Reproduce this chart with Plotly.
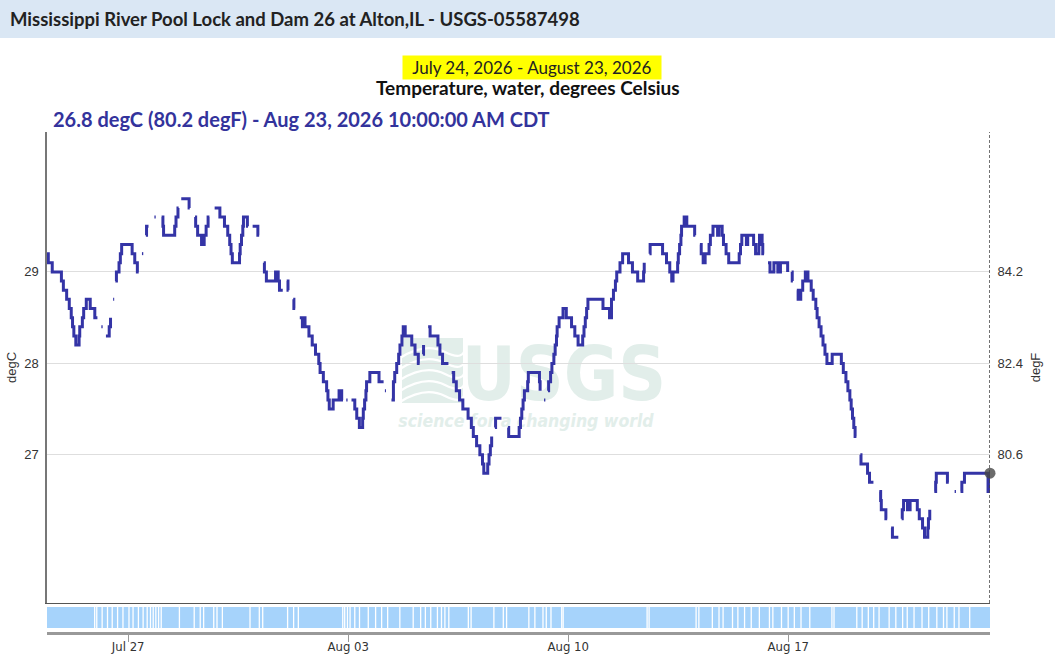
import plotly.graph_objects as go
import pandas as pd

SITE_TITLE = "Mississippi River Pool Lock and Dam 26 at Alton,IL - USGS-05587498"
DATE_RANGE = "July 24, 2026 - August 23, 2026"
PARAM_NAME = "Temperature, water, degrees Celsius"
LATEST_TEXT = "26.8 degC (80.2 degF) - Aug 23, 2026 10:00:00 AM CDT"

# hours since 2026-07-24 00:00 CDT ; water temperature (degC), None = missing data
obs_hours = [
    10, 11, 14, 21, 22.5, 25, 27, 28.5, 29.5, 30.5, 32, 34.5, 35, 37, 38, 40, 43, 46.5, 48.5, 49.5,
    51.5, 52.5, 53.5, 55, 57.5, 58.5, 59.5, 60.5, 61.3, 61.7,
    62.2, 63, 65, 66, 67, 75, 77, 79, 80, 81, 82.5, 83.5, 84.5, 85.5, 86, 87.5, 88.5,
    92, 93, 94, 97.5, 98.5, 99, 107.5, 108.5, 110, 110.5, 111.5, 112.5, 118.5, 119, 120,
    123, 123.5, 125, 128, 130, 131.5, 133, 134, 135,
    138, 142, 145.5, 148, 149.5, 150.5, 151.5, 157, 157.5, 158.5, 159.5, 160, 163, 163.5, 164.5,
    167, 171, 172, 173, 175.5, 176, 177.5, 184.5, 186.5, 187.5, 190, 191, 193, 194, 194.5, 195.5,
    198, 198.5, 199.5, 200.5,
    203, 205, 206, 207, 210, 212.5, 215, 217.5, 218.5, 221, 223.5, 224.5, 225.5, 228.5, 233, 235, 236, 237,
    238.5, 239.5, 240.5,
    242.5, 245, 246.5, 248.5, 251, 251.5, 252.5, 253.5, 254, 256.5, 263.5, 267, 267.5,
    268, 268.8, 269.5,
    273, 274.5, 275.5, 277, 278.5, 279.5, 281, 282, 283.5, 288.5, 291, 293.5, 294.5, 295.5,
    297, 297.5, 298.5,
    301, 302.5, 308.5, 310, 312, 316.5, 317.5,
    319, 320.5, 322.5, 325, 327.5, 331.5, 334, 335.5, 338, 340.5, 342.5, 343.5, 346.5, 347.5, 348.5, 349.5, 350.5,
    352, 352.5, 357, 358,
    362, 362.5, 370.5, 371.5, 372.5, 373.5, 374.5, 377, 377.5, 386, 386.5, 387,
    389.5, 390.5, 391.5,
    392.5, 393, 394.5, 395.5, 397, 398, 399, 399.5, 401, 404, 406.5, 410.5, 413, 415.5, 419, 420, 421, 422, 423,
    434.5, 439.5, 441, 442.5, 444, 445, 447.5, 449.5, 454, 457, 461, 465.5, 466, 466.5,
    470, 470.5, 480, 483, 485.5, 487, 488, 491.5, 492, 493, 494, 494.5, 496.5, 498.5, 504.5, 505, 506,
    508.5, 509.5, 511, 512.5, 515.5, 516.5, 518.5, 522, 523, 525.5, 526.5, 528.5, 530.5, 538.5, 539.5, 540.5,
    544, 545, 549.5, 551, 553.5, 554, 556, 556.5, 557.5, 558.5,
    560.5, 562, 565, 568, 570, 575.5, 576.5,
    578.5, 579, 579.5, 580.5,
    582.5, 583.5, 585.5, 587, 589, 591, 593.5, 595, 597, 598, 599.5, 601, 602.5, 604, 605.5, 609.5, 616.5,
    618, 620, 621.5, 623, 624, 625, 626, 627, 628, 629,
    631, 631.5, 636.5, 638, 641, 642,
    645.5, 646.5, 647, 650.5, 651.5, 652.5,
    654.5, 655.5, 660, 661,
    662.5, 663, 664, 667, 669, 672.5, 674.5, 676, 678.5, 680, 682.5, 683, 684, 685,
    687.5, 688.5, 689, 697.5, 698.5, 699,
    703, 704, 705,
    707.5, 708.5, 710.5, 728.5, 729.5, 730,
]
temp_c = [
    29.2, 29.1, 29.0, 28.9, 28.8, 28.7, 28.6, 28.5, 28.4, 28.3, 28.2, 28.3, 28.4, 28.5, 28.6, 28.7, 28.6, 28.5, 28.5, None,
    28.4, 28.4, None, 28.3, 28.4, 28.5, None, 28.7, 28.7, None,
    28.9, 29.0, 29.1, 29.2, 29.3, 29.2, 29.1, 29.0, 29.0, None, 29.2, 29.2, None, 29.4, 29.5, 29.5, None,
    29.6, 29.6, None, 29.6, 29.5, 29.4, 29.5, 29.6, 29.7, 29.7, None, 29.8, 29.7, 29.7, None,
    29.6, 29.5, 29.4, 29.3, 29.4, 29.5, 29.6, 29.6, None,
    29.7, 29.6, 29.5, 29.4, 29.3, 29.2, 29.1, 29.2, 29.3, 29.4, 29.5, 29.6, 29.5, 29.5, None,
    29.5, 29.4, 29.4, None, 29.1, 29.0, 28.9, 29.0, 28.9, 28.8, 28.8, None, 28.9, 28.8, 28.8, None,
    28.7, 28.6, 28.6, None,
    28.5, 28.4, 28.5, 28.4, 28.3, 28.2, 28.1, 28.0, 27.9, 27.8, 27.7, 27.6, 27.5, 27.6, 27.7, 27.6, 27.6, None,
    27.6, 27.6, None,
    27.6, 27.5, 27.4, 27.3, 27.4, 27.5, 27.6, 27.7, 27.8, 27.9, 27.8, 27.8, None,
    27.7, 27.7, None,
    27.6, 27.8, 27.9, 28.0, 28.1, 28.2, 28.3, 28.4, 28.3, 28.2, 28.1, 28.0, 28.0, None,
    28.1, 28.2, None,
    28.4, 28.3, 28.2, 28.1, 28.0, 28.0, None,
    27.9, 27.8, 27.7, 27.6, 27.5, 27.4, 27.3, 27.2, 27.1, 27.0, 26.9, 26.8, 26.9, 27.0, 27.1, 27.2, None,
    27.3, 27.4, 27.4, None,
    27.3, 27.2, 27.3, 27.4, 27.5, 27.6, 27.7, 27.8, 27.9, 27.8, 27.7, None,
    27.6, 27.6, None,
    27.7, 27.8, 27.9, 28.0, 28.1, 28.2, 28.3, 28.4, 28.5, 28.6, 28.5, 28.4, 28.3, 28.2, 28.3, 28.4, 28.5, 28.6, 28.7,
    28.6, 28.5, 28.7, 28.8, 28.9, 29.0, 29.1, 29.2, 29.1, 29.0, 28.9, 29.0, 29.1, None,
    29.2, 29.3, 29.2, 29.1, 29.0, 28.9, 29.0, 29.1, 29.2, 29.3, 29.4, 29.5, 29.6, 29.5, 29.4, 29.4, None,
    29.3, 29.2, 29.1, 29.2, 29.3, 29.4, 29.5, 29.4, 29.5, 29.4, 29.3, 29.2, 29.1, 29.2, 29.3, 29.4,
    29.3, 29.4, 29.3, 29.2, 29.3, 29.4, 29.3, 29.2, 29.2, None,
    29.1, 29.0, 29.1, 29.0, 29.1, 29.0, None,
    29.0, 28.9, 28.9, None,
    28.8, 28.7, 28.8, 28.9, 29.0, 28.9, 28.8, 28.7, 28.6, 28.5, 28.4, 28.3, 28.2, 28.1, 28.0, 28.1, 28.0,
    27.9, 27.8, 27.7, 27.6, 27.5, 27.4, 27.3, 27.2, 27.2, None,
    27.0, 26.9, 26.8, 26.7, 26.7, None,
    26.6, 26.5, 26.4, 26.3, 26.3, None,
    26.2, 26.1, 26.1, None,
    26.3, 26.4, 26.5, 26.4, 26.5, 26.5, 26.4, 26.3, 26.2, 26.1, 26.2, 26.3, 26.4, None,
    26.6, 26.7, 26.8, 26.7, 26.7, None,
    26.6, 26.6, None,
    26.6, 26.7, 26.8, 26.6, 26.8, 26.8,
]

# hours (since 2026-07-24 00:00) of the white breaks in the data-availability strip
strip_gap_hours = [
    46.4, 48, 52.1, 56.2, 59.8, 63.9, 68.0, 72.6, 75.7, 79.8, 83.4, 86.5, 89.0, 91.1, 93.1, 95.2, 97.2,
    111.1, 122.4, 127.0, 129.6, 137.3, 139.8, 143.9, 165.0, 172.1, 174.7, 193.7, 198.3, 201.9,
    235.8, 237.3, 239.4, 241.4, 245.0, 248.6, 255.3, 260.9, 265.5, 270.1, 279.4, 289.6, 295.3, 298.9,
    303.0, 308.1, 311.2, 313.8, 316.8, 331.7, 333.8, 351.2, 358.4, 360.9, 377.9, 382.5, 388.7, 391.2,
    394.8, 403.0, 404.1, 468.2, 469.7, 505.6, 507.7, 518.0, 523.1, 526.2, 533.4, 537.5, 542.6, 547.7,
    553.9, 561.6, 564.2, 570.8, 575.9, 580.6, 585.7, 592.4, 609.3, 610.9, 628.3, 632.4, 637.1, 641.2,
    645.3, 653.0, 658.1, 663.3, 666.8, 672.0, 678.1, 683.2, 689.4, 694.5, 697.1, 702.7, 706.3, 714.5,
]

tick_dates = ["2026-07-27", "2026-08-03", "2026-08-10", "2026-08-17"]
tick_labels = ["Jul 27", "Aug 03", "Aug 10", "Aug 17"]
c_ticks = [27, 28, 29]
f_ticks = [80.6, 82.4, 84.2]
c_range = [25.38, 30.53]

LINE = "#3434a6"
origin = pd.Timestamp("2026-07-24 00:00")
times = origin + pd.to_timedelta(obs_hours, unit="h")
x_start, x_end = times[0], times[-1]
f_range = [v * 1.8 + 32 for v in c_range]

fig = go.Figure()

fig.add_trace(go.Scatter(
    x=times, y=temp_c, mode="lines", line=dict(color=LINE, width=3, shape="hv"),
    connectgaps=False, hoverinfo="skip", showlegend=False, xaxis="x", yaxis="y"))

# last reading marker
fig.add_trace(go.Scatter(
    x=[times[-1]], y=[temp_c[-1]], mode="markers", cliponaxis=False,
    marker=dict(size=11, color="rgba(70,70,70,0.8)"), hoverinfo="skip", showlegend=False,
    xaxis="x", yaxis="y"))

# invisible trace for the Fahrenheit axis
fig.add_trace(go.Scatter(
    x=[x_start, x_end], y=f_range, mode="lines", line=dict(color="rgba(0,0,0,0)"),
    hoverinfo="skip", showlegend=False, xaxis="x", yaxis="y3"))

# availability strip
fig.add_trace(go.Scatter(
    x=[x_start, x_end, x_end, x_start, x_start], y=[0.16, 0.16, 1, 1, 0.16],
    fill="toself", fillcolor="#a6d3fb", line=dict(width=0), mode="lines",
    hoverinfo="skip", showlegend=False, xaxis="x2", yaxis="y2"))
gx, gy = [], []
for h in strip_gap_hours:
    t = origin + pd.Timedelta(hours=h)
    gx += [t, t, None]
    gy += [0.16, 1, None]
fig.add_trace(go.Scatter(
    x=gx, y=gy, mode="lines", line=dict(color="white", width=1.3),
    hoverinfo="skip", showlegend=False, xaxis="x2", yaxis="y2"))

W, H = 1055, 657
ML, MR, MT, MB = 47, 65, 132, 25
PW, PH = W - ML - MR, H - MT - MB


def px(x):
    return (x - ML) / PW


def py(y):
    return (H - MB - y) / PH


tick_font = dict(family="Liberation Sans, Arial, sans-serif", size=13, color="#333")
narrow = "DejaVu Sans Condensed, Liberation Sans Narrow, Roboto, sans-serif"
head_font = "Lato, Open Sans, sans-serif"
WM = "#e2eeea"

shapes = [
    dict(type="rect", xref="paper", yref="paper", x0=px(0), x1=px(W), y0=py(38), y1=py(0),
         fillcolor="#dae7f4", line=dict(width=0), layer="below"),
    dict(type="line", xref="x", yref="y domain", x0=x_end, x1=x_end, y0=0, y1=1,
         line=dict(color="#444", width=1.5, dash="3px,2px")),
    # USGS watermark
    dict(type="rect", xref="paper", yref="paper", x0=px(468), x1=px(660), y0=py(405), y1=py(333),
         line=dict(width=0), fillcolor="rgba(0,0,0,0)", layer="below",
         label=dict(text="<b>USGS</b>", font=dict(family=narrow, size=74, color=WM),
                    textposition="middle center")),
    dict(type="rect", xref="paper", yref="paper", x0=px(400), x1=px(652), y0=py(430), y1=py(408),
         line=dict(width=0), fillcolor="rgba(0,0,0,0)", layer="below",
         label=dict(text="<b><i>science for a changing world</i></b>",
                    font=dict(family=narrow, size=17.5, color=WM), textposition="middle center")),
    dict(type="path", xref="paper", yref="paper", layer="below", line=dict(width=0), fillcolor=WM,
         path=f"M {px(402)},{py(338)} L {px(463)},{py(338)} L {px(463)},{py(403)} L {px(402)},{py(403)} Z"),
]
for k in range(5):
    yy = 350 + k * 11
    shapes.append(dict(
        type="path", xref="paper", yref="paper", layer="below",
        line=dict(color="white", width=2.2),
        path=f"M {px(400)},{py(yy + 8)} Q {px(425)},{py(yy - 8)} {px(445)},{py(yy + 2)} T {px(465)},{py(yy - 4)}"))

annotations = [
    dict(text=f"<b>{SITE_TITLE}</b>", x=px(8), y=py(19), xref="paper", yref="paper",
         xanchor="left", yanchor="middle", showarrow=False,
         font=dict(family=head_font, size=18.5, color="#222")),
    dict(text=f"&nbsp;&nbsp;{DATE_RANGE}&nbsp;&nbsp;", x=px(532), y=py(67), xref="paper", yref="paper",
         xanchor="center", yanchor="middle", showarrow=False, bgcolor="#ffff00", borderpad=1,
         font=dict(family=head_font, size=17, color="#222")),
    dict(text=f"<b>{PARAM_NAME}</b>", x=px(528), y=py(88), xref="paper", yref="paper",
         xanchor="center", yanchor="middle", showarrow=False,
         font=dict(family=head_font, size=19, color="#111")),
    dict(text=f"<b>{LATEST_TEXT}</b>", x=px(51), y=py(119), xref="paper", yref="paper",
         xanchor="left", yanchor="middle", showarrow=False,
         font=dict(family=head_font, size=20, color="#33339c")),
]

fig.update_layout(
    width=W, height=H, margin=dict(l=ML, r=MR, t=MT, b=MB),
    paper_bgcolor="white", plot_bgcolor="white",
    showlegend=False, shapes=shapes, annotations=annotations,
    xaxis=dict(domain=[0, 1], anchor="y", range=[x_start, x_end], showticklabels=False,
               showgrid=False, zeroline=False, showline=True, linecolor="#555", linewidth=1,
               ticks=""),
    yaxis=dict(domain=[py(603), 1], range=c_range, tickvals=c_ticks, ticktext=[str(v) for v in c_ticks],
               showgrid=True, gridcolor="#dedede", gridwidth=1, zeroline=False,
               showline=True, linecolor="#777", linewidth=1.5,
               ticks="outside", ticklen=4, tickcolor="rgba(0,0,0,0)", tickfont=tick_font,
               title=dict(text="degC", font=tick_font, standoff=5), automargin=False),
    yaxis3=dict(overlaying="y", side="right", anchor="x", range=f_range, tickvals=f_ticks,
                ticktext=[f"{v:.1f}" for v in f_ticks], showgrid=False, zeroline=False,
                showline=False, ticks="outside", ticklen=4, tickcolor="rgba(0,0,0,0)",
                tickfont=tick_font, title=dict(text="degF", font=tick_font, standoff=8),
                automargin=False),
    xaxis2=dict(domain=[0, 1], anchor="y2", matches="x", range=[x_start, x_end],
                tickvals=tick_dates, ticktext=tick_labels, ticks="outside", ticklen=7,
                tickcolor="#999", showline=True, linecolor="#999", linewidth=3,
                showgrid=False, zeroline=False, automargin=False, ticklabelstandoff=-7,
                tickfont=dict(family=narrow, size=13, color="#333")),
    yaxis2=dict(domain=[0, py(607)], range=[0, 1], visible=False, fixedrange=True),
)

fig.write_html("out.html", config={"displayModeBar": False},
               post_script="document.body.style.margin='0px';document.body.style.overflow='hidden';")
